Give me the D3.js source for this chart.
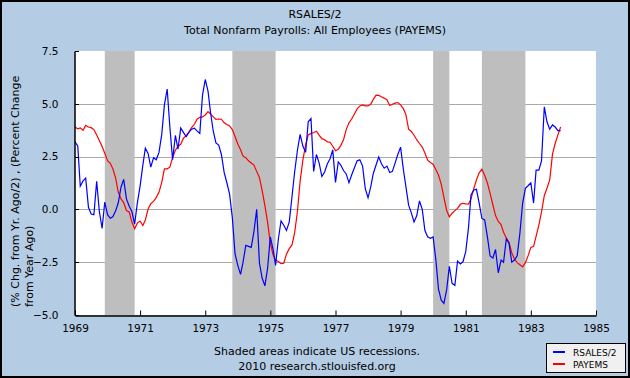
<!DOCTYPE html>
<html><head><meta charset="utf-8">
<script src="https://cdn.jsdelivr.net/npm/d3@7/dist/d3.min.js"></script>
<style>
body{margin:0;background:#fff;}
svg{display:block;}
text{font-family:"DejaVu Sans",Verdana,sans-serif;fill:#000;}
</style>
</head><body>
<svg id="chart" width="630" height="378"></svg>
<script>
// ---- data (monthly, Jan 1969 .. Dec 1983) ----
const startYear = 1969;
const rsales = [
3.2,3.0,1.1,1.35,1.48,0.1,-0.22,-0.25,1.33,-0.1,-0.9,0.35,
-0.25,-0.42,-0.35,-0.08,0.3,1.05,1.42,0.5,0.15,-0.1,-0.7,0.3,
1.1,2.1,2.9,2.65,2.0,2.45,2.35,2.7,3.55,4.95,5.7,3.9,
2.35,3.5,2.85,3.85,3.65,3.45,3.65,3.8,3.85,3.72,3.6,5.4,
6.15,5.6,4.6,3.7,3.15,3.05,2.6,1.75,1.25,0.72,-0.4,-2.1,
-2.65,-3.08,-2.5,-1.7,-1.75,-1.8,-1.05,0.0,-2.55,-3.25,-3.62,-2.8,
-1.3,-1.9,-2.65,-1.4,-0.55,-0.75,-1.0,-0.6,0.6,1.78,2.8,3.55,
3.0,2.7,4.15,4.3,1.8,2.6,2.2,1.56,1.77,2.15,2.4,2.82,
1.28,2.25,2.1,1.84,1.68,1.27,1.63,1.97,2.3,2.35,2.05,0.98,
0.55,1.08,1.7,2.1,2.48,2.16,1.95,2.05,1.75,1.8,2.2,2.6,
2.95,1.9,1.1,0.2,-0.15,-0.6,-0.3,0.4,0.0,-1.0,-1.3,-1.37,
-1.3,-2.4,-3.76,-4.3,-4.45,-3.8,-2.7,-3.5,-3.6,-2.45,-2.58,-2.48,
-2.0,-0.85,0.68,0.92,0.95,0.28,-0.43,-0.5,-1.3,-2.2,-2.3,-1.9,
-3.0,-2.4,-2.5,-1.4,-1.6,-2.5,-2.4,-2.2,-1.1,0.3,1.0,1.12,
1.26,0.3,1.86,1.86,2.3,4.85,4.15,3.8,4.0,3.9,3.73,3.73
];
const payems = [
3.9,3.82,3.86,3.75,3.98,3.9,3.87,3.78,3.52,3.26,2.98,2.66,
2.31,2.18,1.93,1.5,0.82,0.5,0.32,-0.05,-0.12,-0.6,-0.92,-0.65,
-0.55,-0.76,-0.5,0.02,0.27,0.38,0.56,0.81,1.28,1.92,1.92,2.0,
2.46,2.8,2.98,3.08,3.37,3.49,3.66,3.87,4.03,4.27,4.36,4.38,
4.47,4.63,4.52,4.38,4.26,4.28,4.27,4.1,4.02,3.95,3.78,3.45,
3.1,2.82,2.52,2.45,2.3,2.2,2.1,1.8,1.5,0.9,0.18,-0.6,
-1.6,-2.15,-2.4,-2.47,-2.57,-2.55,-2.12,-1.86,-1.68,-1.1,-0.1,1.33,
2.33,3.05,3.53,3.6,3.63,3.7,3.52,3.35,3.3,3.2,3.18,2.99,
2.78,2.85,3.02,3.3,3.78,4.1,4.28,4.52,4.76,4.9,4.95,4.9,
4.9,4.99,5.21,5.41,5.4,5.33,5.27,5.19,4.92,4.98,5.03,5.06,
4.95,4.77,4.5,3.8,3.69,3.51,3.3,3.12,2.95,2.67,2.33,2.22,
2.14,1.88,1.63,1.2,0.57,-0.05,-0.35,-0.18,-0.06,0.05,0.24,0.29,
0.26,0.25,0.5,0.98,1.4,1.73,1.9,1.62,1.25,0.76,0.22,-0.29,
-0.57,-0.72,-1.08,-1.35,-1.56,-2.05,-2.35,-2.52,-2.62,-2.72,-2.52,-2.2,
-1.8,-1.75,-1.28,-0.74,-0.12,0.65,1.0,1.4,2.62,3.12,3.53,3.9
];
const recessionStarts = ["1969-12-01","1973-11-01","1980-01-01","1981-07-01"];
const recessionEnds   = ["1970-11-01","1975-03-01","1980-07-01","1982-11-01"];
const yTickValues = [-5,-2.5,0,2.5,5,7.5];
const xTickYears = [1969,1971,1973,1975,1977,1979,1981,1983,1985];
const seriesNames = ["RSALES/2","PAYEMS"];
const seriesColors = ["#0000ff","#ff0000"];
const titleLines = ["RSALES/2","Total Nonfarm Payrolls: All Employees (PAYEMS)"];
const yTitleLines = ["(% Chg. from Yr. Ago/2) , (Percent Change","from Year Ago)"];
const footerLines = ["Shaded areas indicate US recessions.","2010 research.stlouisfed.org"];

// ---- layout ----
const W = 630, H = 378;
const plot = {left:75, right:596, top:51, bottom:315};
const svg = d3.select("#chart");

svg.append("rect").attr("x",1).attr("y",1).attr("width",W-2).attr("height",H-2)
  .attr("fill","#b4cde4").attr("stroke","#000").attr("stroke-width",2);

const parse = d3.timeParse("%Y-%m-%d");
const x = d3.scaleTime()
  .domain([new Date(xTickYears[0],0,1), new Date(xTickYears[xTickYears.length-1],0,1)])
  .range([plot.left, plot.right]);
const y = d3.scaleLinear().domain([-5,7.5]).range([plot.bottom, plot.top]);

const dates = rsales.map((_,i)=> new Date(startYear, i, 1));

// plot background
svg.append("rect").attr("x",plot.left).attr("y",plot.top)
  .attr("width",plot.right-plot.left).attr("height",plot.bottom-plot.top).attr("fill","#fff");

// gridlines
svg.append("g").selectAll("line").data(yTickValues.filter(v=>v>-5 && v<7.5)).join("line")
  .attr("x1",plot.left).attr("x2",plot.right)
  .attr("y1",d=>Math.round(y(d))+0.5).attr("y2",d=>Math.round(y(d))+0.5)
  .attr("stroke","#aaaaaa").attr("stroke-width",1);

// recessions
svg.append("g").selectAll("rect").data(recessionStarts.map((s,i)=>[parse(s),parse(recessionEnds[i])])).join("rect")
  .attr("x",d=>x(d[0])).attr("width",d=>x(d[1])-x(d[0]))
  .attr("y",plot.top).attr("height",plot.bottom-plot.top)
  .attr("fill","#bebebe");

// lines
const line = d3.line().x((d,i)=>x(dates[i])).y(d=>y(d));
[payems, rsales].forEach((s,k)=>{
  const idx = k===0 ? 1 : 0;
  svg.append("path").datum(s).attr("d",line).attr("fill","none")
    .attr("stroke",seriesColors[idx]).attr("stroke-width",1.2).attr("stroke-linejoin","miter");
});

// axes
const yAxis = d3.axisLeft(y).tickValues(yTickValues).tickFormat(d3.format(".1f")).tickSize(0).tickPadding(16);
const gy = svg.append("g").attr("transform",`translate(${plot.left-0.5},0)`).call(yAxis);
gy.select(".domain").attr("stroke","#000").attr("stroke-width",1.5);
gy.selectAll("text").attr("font-size",10.5).attr("font-family","DejaVu Sans");
// inner y ticks
svg.append("g").selectAll("line").data(yTickValues).join("line")
  .attr("x1",plot.left).attr("x2",plot.left+4)
  .attr("y1",d=>Math.round(y(d))+0.5).attr("y2",d=>Math.round(y(d))+0.5)
  .attr("stroke","#000");

const xAxis = d3.axisBottom(x).tickValues(xTickYears.map(yv=>new Date(yv,0,1)))
  .tickFormat(d3.timeFormat("%Y")).tickSizeInner(-5).tickSizeOuter(0).tickPadding(9);
const gx = svg.append("g").attr("transform",`translate(0,${plot.bottom+0.5})`).call(xAxis);
gx.select(".domain").attr("stroke","#000").attr("stroke-width",1.5);
gx.selectAll(".tick line").attr("stroke","#000");
gx.selectAll("text").attr("font-size",10.5).attr("font-family","DejaVu Sans");

// titles
svg.append("g").selectAll("text").data(titleLines).join("text")
  .attr("x",W/2).attr("y",(d,i)=>18+i*16).attr("text-anchor","middle")
  .attr("font-size",11).text(d=>d);

// y title
svg.append("g").selectAll("text").data(yTitleLines).join("text")
  .attr("transform",(d,i)=>`translate(${19+i*14},307) rotate(-90)`)
  .attr("text-anchor","start").attr("font-size",11).text(d=>d);

// footer
svg.append("g").selectAll("text").data(footerLines).join("text")
  .attr("x",317).attr("y",(d,i)=>355+i*15).attr("text-anchor","middle")
  .attr("font-size",11).text(d=>d);

// legend
const lg = svg.append("g");
lg.append("rect").attr("x",546.5).attr("y",343.5).attr("width",79).attr("height",29)
  .attr("fill","#f0f0f0").attr("stroke","#000");
seriesNames.forEach((n,i)=>{
  lg.append("line").attr("x1",553).attr("x2",565).attr("y1",352+i*12).attr("y2",352+i*12)
    .attr("stroke",seriesColors[i]).attr("stroke-width",2);
  lg.append("text").attr("x",573).attr("y",355.5+i*12).attr("font-size",9).text(n);
});
</script>
</body></html>
